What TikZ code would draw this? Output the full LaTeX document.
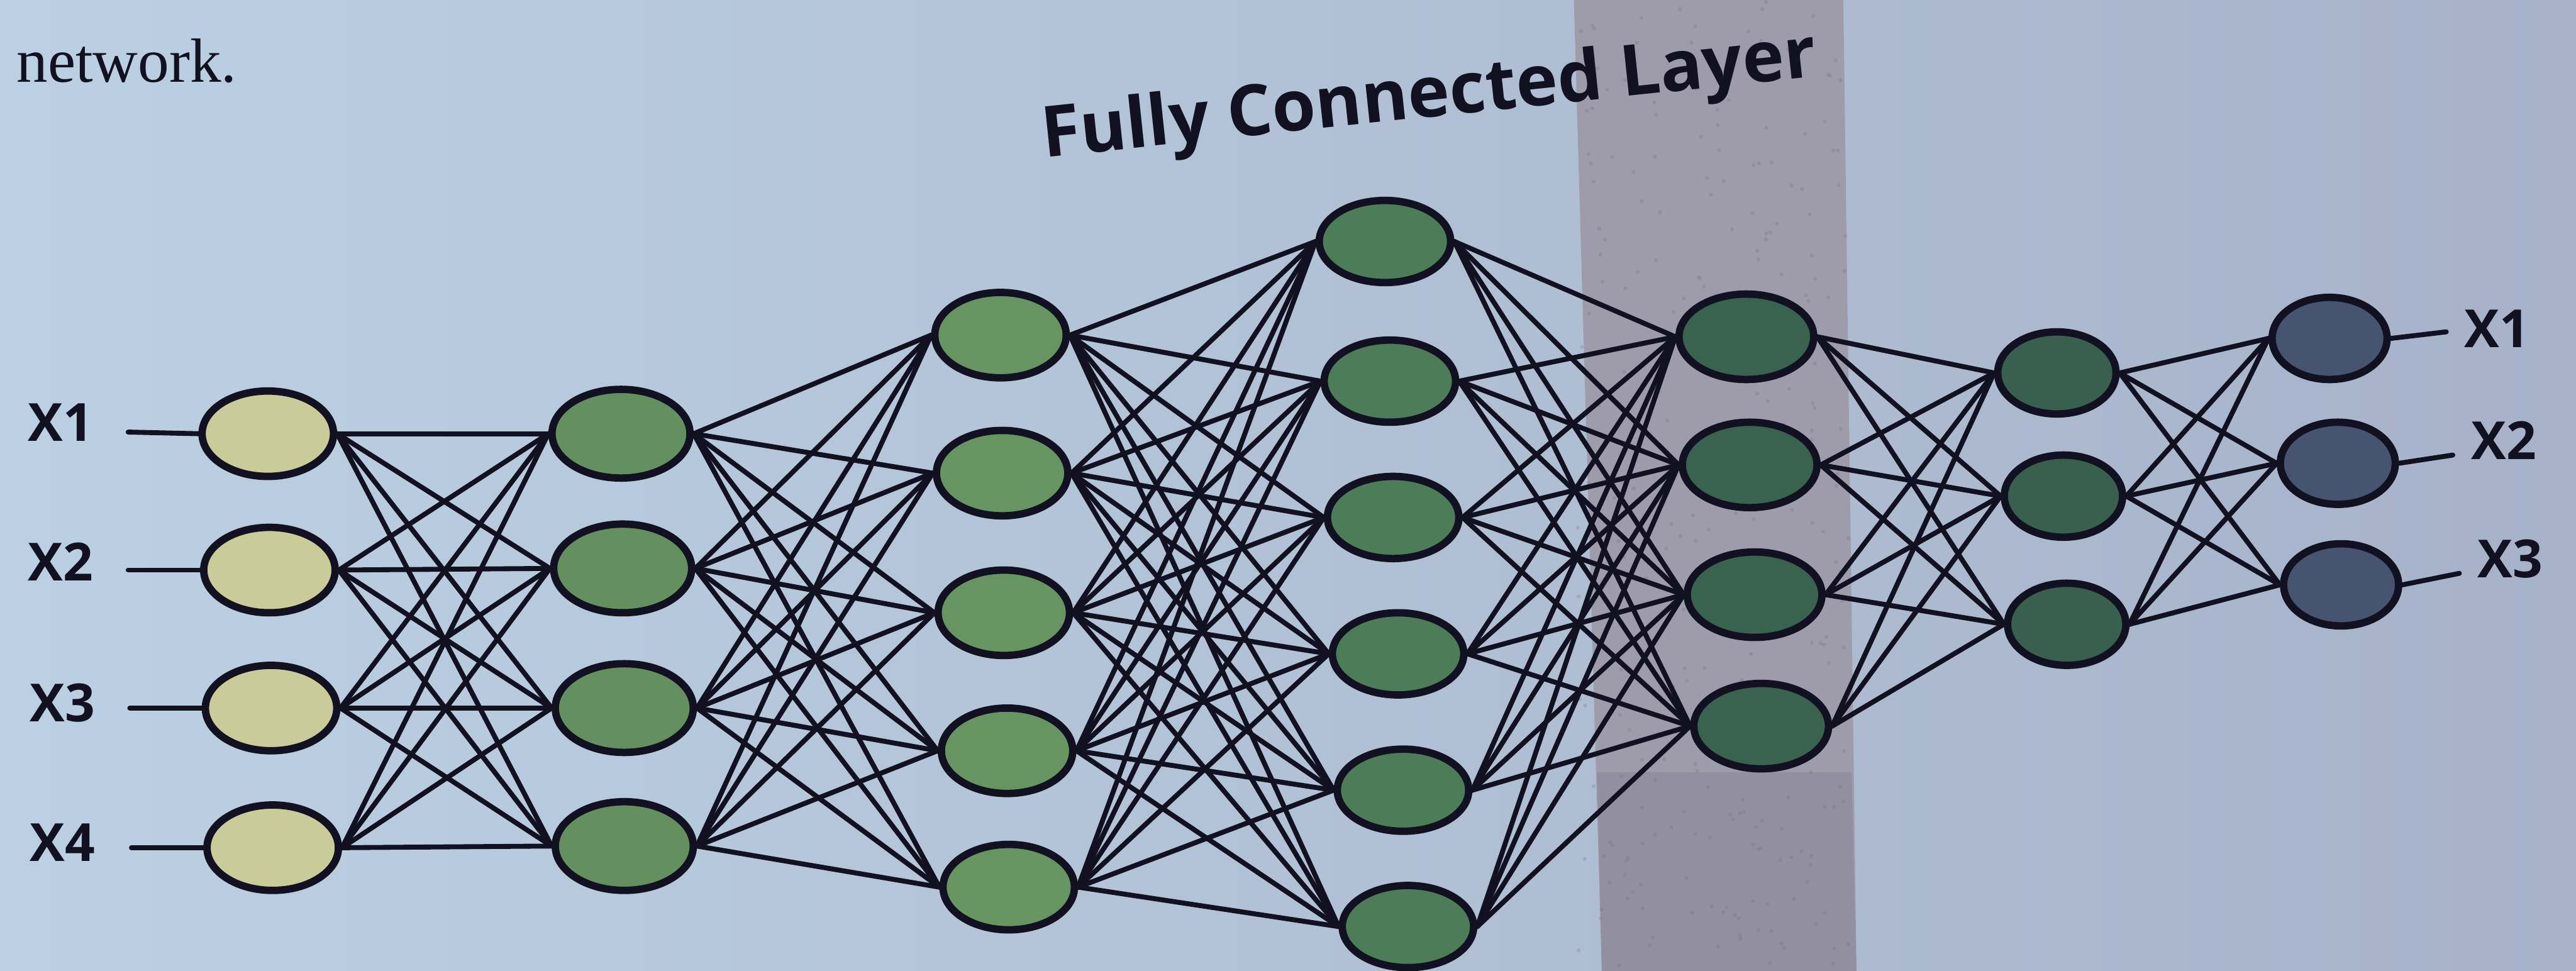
\documentclass[tikz,border=0pt]{standalone}
\usepackage{fontspec}
\setmainfont{Liberation Serif}
\setsansfont{Open Sans}
\usetikzlibrary{shapes.geometric}
\pgfdeclarelayer{bg}
\pgfdeclarelayer{edges}
\pgfsetlayers{bg,edges,main}

\definecolor{paperL}{HTML}{BCD0E3}
\definecolor{paperR}{HTML}{A7B2C9}
\definecolor{bandC}{HTML}{9E9BAA}
\definecolor{bandD}{HTML}{8E8B9E}
\definecolor{inC}{HTML}{CACB98}
\definecolor{hAC}{HTML}{64905F}
\definecolor{hBC}{HTML}{679562}
\definecolor{hCC}{HTML}{4D7D58}
\definecolor{hDC}{HTML}{3A634F}
\definecolor{hEC}{HTML}{395F4E}
\definecolor{outC}{HTML}{465470}
\definecolor{ink}{HTML}{111122}

\tikzset{
  neuron/.style={ellipse, draw=ink, line width=4.5pt, inner sep=0pt,
                 minimum width=80pt, minimum height=52pt},
  small neuron/.style={neuron, minimum width=70pt, minimum height=50pt},
  link/.style={draw=ink, line width=3pt, line cap=round},
  xlabel/.style={font=\sffamily\bfseries\fontsize{32}{32}\selectfont, text=ink, inner sep=0pt}
}

\begin{document}
\begin{tikzpicture}[x=1pt, y=-1pt]
\useasboundingbox (0,0) rectangle (1568,591);

% paper and the grey band across it
\begin{pgfonlayer}{bg}
  \shade[left color=paperL, right color=paperR] (0,0) rectangle (1568,591);
  \fill[bandC] (958,0) -- (1122,0) -- (1130,591) -- (975,591) -- cycle;
  \fill[bandD, opacity=0.7] (972,470) -- (1127,470) -- (1130,591) -- (975,591) -- cycle;
  \foreach \i in {1,...,300} {
    \pgfmathsetmacro{\px}{960+165*rnd}
    \pgfmathsetmacro{\py}{591*rnd}
    \fill[black!55, opacity=0.25] (\px,\py) circle (1.2pt);
  }
\end{pgfonlayer}

% caption text
\node[anchor=base west, inner sep=0pt, text=ink,
      font=\rmfamily\fontsize{38}{38}\selectfont] (cap) at (10,50) {network.};
\node[rotate=6, inner sep=0pt, text=ink,
      font=\sffamily\bfseries\fontsize{43}{43}\selectfont] (title) at (870,60) {Fully Connected Layer};

% input layer
\node[neuron, fill=inC] (a1) at (163,264) {};
\node[neuron, fill=inC] (a2) at (164,347) {};
\node[neuron, fill=inC] (a3) at (165,431) {};
\node[neuron, fill=inC] (a4) at (166,516) {};

% hidden layer 1
\node[neuron, fill=hAC, minimum width=84pt, minimum height=54pt] (b1) at (378,264) {};
\node[neuron, fill=hAC, minimum width=84pt, minimum height=54pt] (b2) at (379,346) {};
\node[neuron, fill=hAC, minimum width=84pt, minimum height=54pt] (b3) at (380,431) {};
\node[neuron, fill=hAC, minimum width=84pt, minimum height=54pt] (b4) at (380,515) {};

% hidden layer 2
\node[neuron, fill=hBC] (c1) at (609,204) {};
\node[neuron, fill=hBC] (c2) at (610,288) {};
\node[neuron, fill=hBC] (c3) at (611,373) {};
\node[neuron, fill=hBC] (c4) at (613,457) {};
\node[neuron, fill=hBC] (c5) at (614,540) {};

% hidden layer 3
\node[neuron, fill=hCC, minimum height=50pt] (d1) at (843,147) {};
\node[neuron, fill=hCC, minimum height=50pt] (d2) at (846,232) {};
\node[neuron, fill=hCC, minimum height=50pt] (d3) at (848,315) {};
\node[neuron, fill=hCC, minimum height=50pt] (d4) at (851,398) {};
\node[neuron, fill=hCC, minimum height=50pt] (d5) at (854,481) {};
\node[neuron, fill=hCC, minimum height=50pt] (d6) at (857,564) {};

% hidden layer 4
\node[neuron, fill=hDC, minimum width=82pt] (e1) at (1063,205) {};
\node[neuron, fill=hDC, minimum width=82pt] (e2) at (1065,283) {};
\node[neuron, fill=hDC, minimum width=82pt] (e3) at (1068,362) {};
\node[neuron, fill=hDC, minimum width=82pt] (e4) at (1072,442) {};

% hidden layer 5
\node[neuron, fill=hEC, minimum width=72pt, minimum height=50pt] (f1) at (1252,227) {};
\node[neuron, fill=hEC, minimum width=72pt, minimum height=50pt] (f2) at (1256,302) {};
\node[neuron, fill=hEC, minimum width=72pt, minimum height=50pt] (f3) at (1258,380) {};

% output layer
\node[small neuron, fill=outC] (g1) at (1418,206) {};
\node[small neuron, fill=outC] (g2) at (1423,282) {};
\node[small neuron, fill=outC] (g3) at (1425,356) {};

% input and output labels
\node[xlabel] (xa1) at (37,257) {X1};
\node[xlabel] (xa2) at (37,342) {X2};
\node[xlabel] (xa3) at (38,428) {X3};
\node[xlabel] (xa4) at (38,513) {X4};
\node[xlabel] (xg1) at (1520,200) {X1};
\node[xlabel] (xg2) at (1524,268) {X2};
\node[xlabel] (xg3) at (1528,340) {X3};

\coordinate (ia1) at (78,263);
\coordinate (ia2) at (78,347);
\coordinate (ia3) at (79,431);
\coordinate (ia4) at (80,516);
\coordinate (og1) at (1489,202);
\coordinate (og2) at (1493,277);
\coordinate (og3) at (1497,349);

% connections
\begin{pgfonlayer}{edges}
  \foreach \i in {1,...,4} \draw[link] (ia\i) -- (a\i.west);
  \foreach \i in {1,...,3} \draw[link] (g\i.east) -- (og\i);
  \foreach \i in {1,...,4} \foreach \j in {1,...,4} \draw[link] (a\i.east) -- (b\j.west);
  \foreach \i in {1,...,4} \foreach \j in {1,...,5} \draw[link] (b\i.east) -- (c\j.west);
  \foreach \i in {1,...,5} \foreach \j in {1,...,6} \draw[link] (c\i.east) -- (d\j.west);
  \foreach \i in {1,...,6} \foreach \j in {1,...,4} \draw[link] (d\i.east) -- (e\j.west);
  \foreach \i in {1,...,4} \foreach \j in {1,...,3} \draw[link] (e\i.east) -- (f\j.west);
  \foreach \i in {1,...,3} \foreach \j in {1,...,3} \draw[link] (f\i.east) -- (g\j.west);
\end{pgfonlayer}
\end{tikzpicture}
\end{document}
